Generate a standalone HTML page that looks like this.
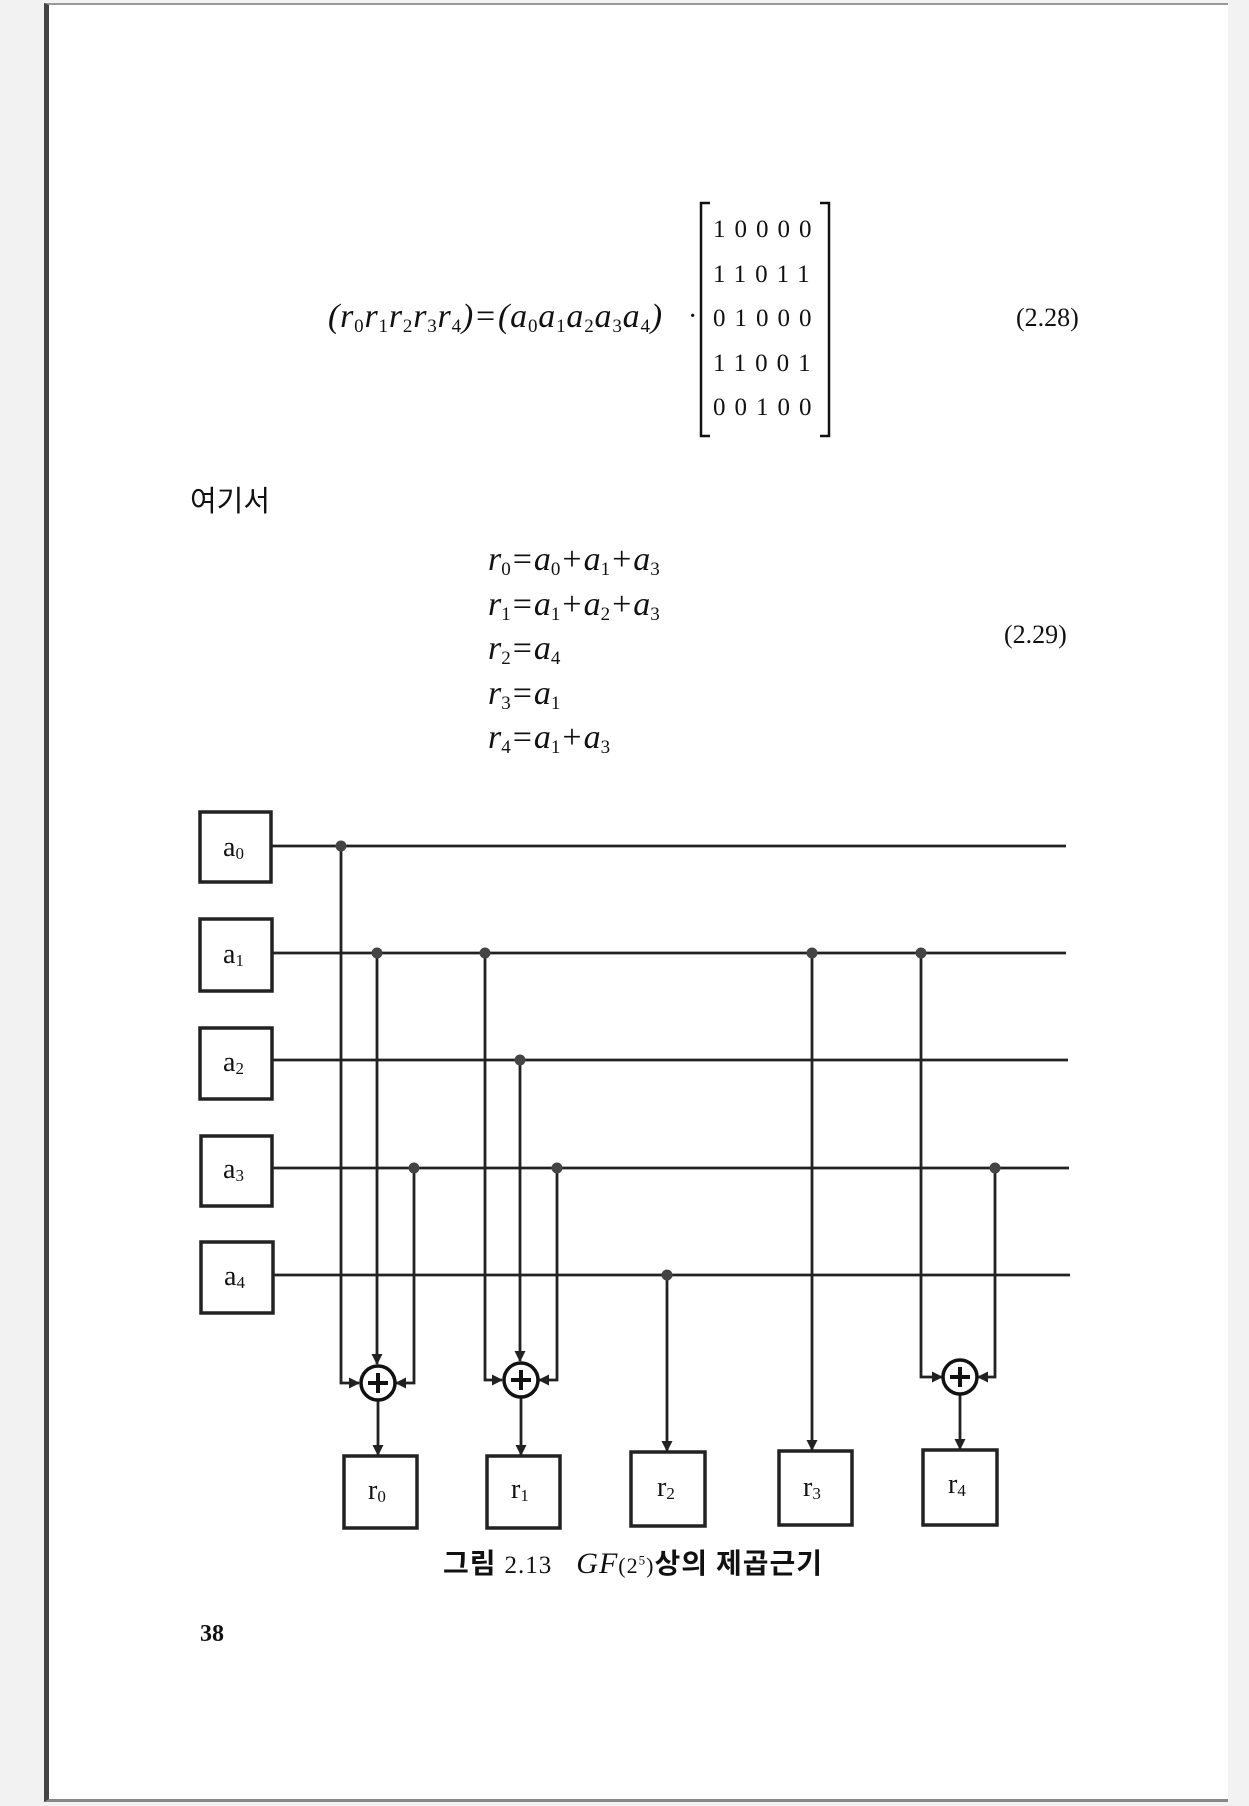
<!DOCTYPE html>
<html><head><meta charset="utf-8"><style>
html,body{margin:0;padding:0;}
body{width:1249px;height:1806px;position:relative;background:#f2f2f2;overflow:hidden;font-family:"Liberation Serif","Noto Serif CJK SC",serif;color:#111;}
.page{position:absolute;left:44px;top:3px;width:1184px;height:1799px;background:#fff;border-left:5px solid #444;border-top:2px solid #999;border-bottom:3px solid #888;box-sizing:border-box;}
.t{position:absolute;white-space:nowrap;line-height:1;}
.m{font-style:italic;font-size:34px;}
.m sub{font-size:19px;vertical-align:-5px;font-style:normal;line-height:0;}
.m .o{font-style:normal;margin:0 2px;}
.k{font-family:"Liberation Serif","Noto Sans CJK KR",sans-serif;}
</style></head><body>
<div class="page"></div>
<div class="t m" style="left:328px;top:300px;letter-spacing:0.8px;">(r<sub>0</sub>r<sub>1</sub>r<sub>2</sub>r<sub>3</sub>r<sub>4</sub>)<span class="o">=</span>(a<sub>0</sub>a<sub>1</sub>a<sub>2</sub>a<sub>3</sub>a<sub>4</sub>)</div>
<div class="t" style="left:688px;top:303px;font-size:28px;">·</div>
<svg style="position:absolute;left:0;top:0" width="1249" height="1806">
<g fill="none" stroke="#111" stroke-width="2.5">
<path d="M710,203 H701 V436 H710"/><path d="M820,203 H829 V436 H820"/>
</g>
</svg>
<div class="t" style="left:713px;top:208px;font-size:25px;letter-spacing:9px;line-height:44.5px;">10000<br>11011<br>01000<br>11001<br>00100</div>
<div class="t" style="left:1016px;top:305px;font-size:26px;">(2.28)</div>
<div class="t k" style="left:190px;top:488px;font-size:29px;">여기서</div>
<div class="t m" style="left:488px;top:538px;line-height:44.5px;">r<sub>0</sub><span class="o">=</span>a<sub>0</sub><span class="o">+</span>a<sub>1</sub><span class="o">+</span>a<sub>3</sub><br>r<sub>1</sub><span class="o">=</span>a<sub>1</sub><span class="o">+</span>a<sub>2</sub><span class="o">+</span>a<sub>3</sub><br>r<sub>2</sub><span class="o">=</span>a<sub>4</sub><br>r<sub>3</sub><span class="o">=</span>a<sub>1</sub><br>r<sub>4</sub><span class="o">=</span>a<sub>1</sub><span class="o">+</span>a<sub>3</sub></div>
<div class="t" style="left:1004px;top:622px;font-size:26px;">(2.29)</div>

<svg style="position:absolute;left:0;top:0" width="1249" height="1806" font-family="Liberation Serif, serif">
<defs><marker id="ar" markerWidth="11" markerHeight="11" refX="10" refY="5.5" orient="auto" markerUnits="userSpaceOnUse"><path d="M0,0 L11,5.5 L0,11 z" fill="#222"/></marker></defs>
<g fill="none" stroke="#222" stroke-width="3.5">
<rect x="200" y="812" width="71" height="70"/><rect x="200" y="919" width="72" height="72"/><rect x="200" y="1028" width="72" height="71"/><rect x="201" y="1136" width="71" height="70"/><rect x="201" y="1242" width="72" height="71"/>
<rect x="344" y="1456" width="73" height="72"/><rect x="487" y="1456" width="73" height="72"/><rect x="631" y="1452" width="74" height="74"/><rect x="779" y="1451" width="73" height="74"/><rect x="923" y="1450" width="74" height="75"/>
</g>
<g stroke="#222" stroke-width="2.8" fill="none">
<line x1="271" y1="846" x2="1066" y2="846"/><line x1="272" y1="953" x2="1066" y2="953"/><line x1="272" y1="1060" x2="1068" y2="1060"/><line x1="272" y1="1168" x2="1069" y2="1168"/><line x1="273" y1="1275" x2="1070" y2="1275"/>
<path d="M341,846 V1383 H359" marker-end="url(#ar)"/><path d="M377,953 V1364" marker-end="url(#ar)"/><path d="M414,1168 V1383 H396" marker-end="url(#ar)"/><path d="M378,1400 V1455" marker-end="url(#ar)"/>
<path d="M485,953 V1380 H502" marker-end="url(#ar)"/><path d="M520,1060 V1361" marker-end="url(#ar)"/><path d="M557,1168 V1380 H539" marker-end="url(#ar)"/><path d="M521,1397 V1455" marker-end="url(#ar)"/>
<path d="M667,1275 V1451" marker-end="url(#ar)"/><path d="M812,953 V1450" marker-end="url(#ar)"/>
<path d="M921,953 V1377 H942" marker-end="url(#ar)"/><path d="M995,1168 V1377 H978" marker-end="url(#ar)"/><path d="M960,1394 V1449" marker-end="url(#ar)"/>
</g>
<g stroke="#111" stroke-width="3.5" fill="#fff">
<circle cx="378" cy="1383" r="17"/><circle cx="521" cy="1380" r="17"/><circle cx="960" cy="1377" r="17"/>
</g>
<g stroke="#111" stroke-width="4">
<path d="M368,1383 H388 M378,1373 V1393"/><path d="M511,1380 H531 M521,1370 V1390"/><path d="M950,1377 H970 M960,1367 V1387"/>
</g>
<g fill="#444">
<circle cx="341" cy="846" r="5.5"/><circle cx="377" cy="953" r="5.5"/><circle cx="485" cy="953" r="5.5"/><circle cx="812" cy="953" r="5.5"/><circle cx="921" cy="953" r="5.5"/><circle cx="520" cy="1060" r="5.5"/><circle cx="414" cy="1168" r="5.5"/><circle cx="557" cy="1168" r="5.5"/><circle cx="995" cy="1168" r="5.5"/><circle cx="667" cy="1275" r="5.5"/>
</g>
<g font-size="28" fill="#111">
<text x="223" y="856">a<tspan font-size="17" dy="3">0</tspan></text>
<text x="223" y="963">a<tspan font-size="17" dy="3">1</tspan></text>
<text x="223" y="1071">a<tspan font-size="17" dy="3">2</tspan></text>
<text x="223" y="1178">a<tspan font-size="17" dy="3">3</tspan></text>
<text x="224" y="1285">a<tspan font-size="17" dy="3">4</tspan></text>
<text x="368" y="1499">r<tspan font-size="17" dy="3">0</tspan></text>
<text x="511" y="1498">r<tspan font-size="17" dy="3">1</tspan></text>
<text x="657" y="1496">r<tspan font-size="17" dy="3">2</tspan></text>
<text x="803" y="1496">r<tspan font-size="17" dy="3">3</tspan></text>
<text x="948" y="1493">r<tspan font-size="17" dy="3">4</tspan></text>
</g>
</svg>
<div class="t k" style="left:443px;top:1549px;font-size:28px;font-weight:bold;letter-spacing:1px;">그림 <span style="font-family:'Liberation Serif',serif;font-weight:normal;font-size:25px;">2.13</span>&nbsp;&nbsp;&nbsp;<span style="font-family:'Liberation Serif',serif;font-style:italic;font-weight:normal;font-size:30px;">GF</span><span style="font-family:'Liberation Serif',serif;font-weight:normal;font-size:22px;">(2<sup style="font-size:13px">5</sup>)</span>상의 제곱근기</div>
<div class="t" style="left:200px;top:1622px;font-size:24px;font-weight:bold;">38</div>
</body></html>
